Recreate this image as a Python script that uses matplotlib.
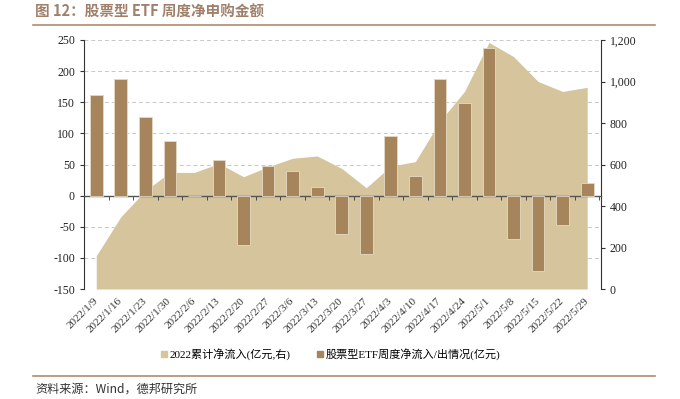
import numpy as np
import matplotlib
matplotlib.use("Agg")
import matplotlib.pyplot as plt
from matplotlib.lines import Line2D
from matplotlib.ticker import FuncFormatter

plt.rcParams['font.family'] = ['Liberation Serif', 'Noto Sans CJK SC', 'DejaVu Sans']
plt.rcParams['axes.unicode_minus'] = False

# data
dates = ['2022/1/9', '2022/1/16', '2022/1/23', '2022/1/30', '2022/2/6', '2022/2/13',
         '2022/2/20', '2022/2/27', '2022/3/6', '2022/3/13', '2022/3/20', '2022/3/27',
         '2022/4/3', '2022/4/10', '2022/4/17', '2022/4/24', '2022/5/1', '2022/5/8',
         '2022/5/15', '2022/5/22', '2022/5/29']
weekly_flow = [162, 187, 126, 87, 0, 58, -80, 48, 39, 14, -61, -94,
               96, 31, 188, 148, 237, -70, -121, -47, 21]
cum_flow = [160, 348, 474, 562, 562, 605, 541, 589, 630, 641, 581, 488,
            592, 614, 808, 952, 1188, 1120, 1000, 952, 972]

bar_color = '#A6845C'
area_color = '#D5C49C'
brown = '#B38C6C'

fig = plt.figure(figsize=(6.8, 3.99), dpi=100)
ax = fig.add_axes([84 / 680, 1 - 289 / 399, (600.7 - 84) / 680, (289 - 40) / 399])
ax2 = ax.twinx()

x = np.arange(len(dates))

# right axis: cumulative area + grid lines (left-axis levels)
for v in range(150, 1201, 150):
    ax2.axhline(v, color='#C8C8C8', lw=0.7, ls=(0, (4, 3)), zorder=0)
ax2.fill_between(x, cum_flow, 0, color=area_color, lw=0, zorder=1)
ax2.set_ylim(0, 1200)
ax2.set_yticks(range(0, 1201, 200))
ax2.yaxis.set_major_formatter(FuncFormatter(lambda v, p: f'{int(v):,}'))

# left axis: weekly bars on top
ax.set_zorder(ax2.get_zorder() + 1)
ax.patch.set_visible(False)
ax.bar(x, weekly_flow, width=0.52, color=bar_color, edgecolor='#E6D9C4', lw=0.6, zorder=3)
ax.set_ylim(-150, 250)
ax.set_yticks(range(-150, 251, 50))
ax.set_xlim(-0.5, len(dates) - 0.45)

ax.spines['bottom'].set_position(('data', 0))
ax.spines['bottom'].set_color('#555555')
ax.spines['bottom'].set_linewidth(1.0)
ax.spines['top'].set_visible(False)
ax.spines['right'].set_visible(False)
ax.spines['left'].set_color('#333333')
ax2.spines['top'].set_visible(False)
ax2.spines['left'].set_visible(False)
ax2.spines['bottom'].set_visible(False)
ax2.spines['right'].set_color('#333333')

ax.set_xticks(x)
ax.set_xticks(np.arange(0.5, len(dates)), minor=True)
ax.set_xticklabels(dates, rotation=45, ha='right', va='center', rotation_mode='anchor')
ax.tick_params(axis='x', which='major', length=0, pad=75, labelsize=8, labelcolor='#333333')
ax.tick_params(axis='x', which='minor', length=3, direction='out', color='#333333')
ax.tick_params(axis='y', length=3, labelsize=8.5, labelcolor='#222222', color='#333333')
ax2.tick_params(axis='y', length=3, labelsize=8.5, labelcolor='#222222', color='#333333')

# legend
handles = [Line2D([], [], marker='s', ls='none', ms=5, color=area_color),
           Line2D([], [], marker='s', ls='none', ms=5, color=bar_color)]
fig.legend(handles, ['2022累计净流入(亿元,右)', '股票型ETF周度净流入/出情况(亿元)'],
           loc='center', bbox_to_anchor=(0.485, 1 - 354 / 399), ncol=2, frameon=False,
           fontsize=8, handletextpad=0.1, columnspacing=2.2, handlelength=0.8)

# title, rules and source
fig.text(35 / 680, 1 - 12 / 399, '图 12：股票型 ETF 周度净申购金额', fontsize=10.5,
         fontweight='bold', color='#A0806A', va='center', ha='left',
         family=['Noto Sans CJK SC', 'DejaVu Sans'])
fig.add_artist(Line2D([33 / 680, 655 / 680], [1 - 25 / 399] * 2, color=brown, lw=1.2))
fig.add_artist(Line2D([33 / 680, 655 / 680], [1 - 376 / 399] * 2, color=brown, lw=1.2))
fig.text(35 / 680, 1 - 389 / 399, '资料来源：Wind，德邦研究所', fontsize=8.7,
         color='#333333', va='center', ha='left', family=['Noto Sans CJK SC', 'DejaVu Sans'])

fig.savefig('out.png', dpi=100)
